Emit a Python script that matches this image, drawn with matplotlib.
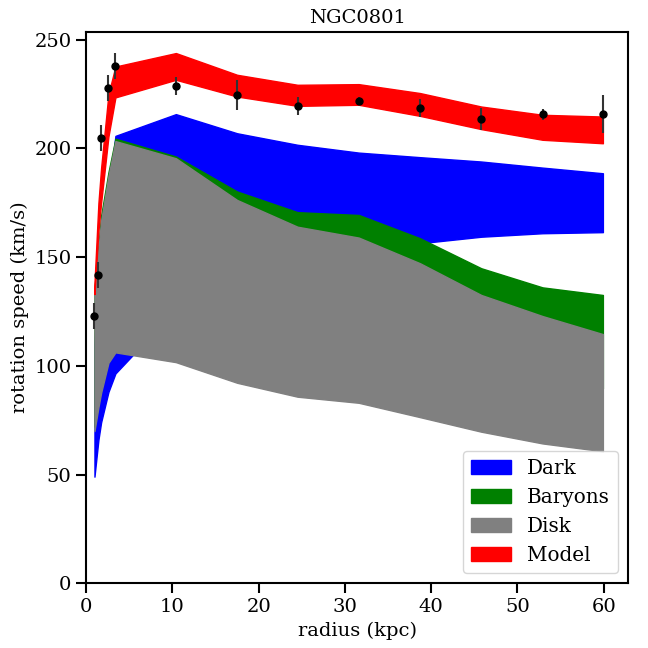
import numpy as np
import matplotlib
matplotlib.use("Agg")
import matplotlib.pyplot as plt

# radii of the measured points (kpc)
radius = [0.96, 1.42, 1.73, 2.58, 3.39, 10.4, 17.5, 24.5, 31.6, 38.7, 45.8, 52.9, 59.9]

# observed rotation speed and errors (km/s)
v_obs = [122.8, 141.8, 204.7, 227.8, 238.0, 228.8, 224.5, 219.6, 221.9, 218.6, 213.5, 215.8, 215.8]
v_err = [6.0, 6.0, 6.0, 6.0, 6.0, 4.0, 7.0, 4.0, 2.0, 4.0, 5.0, 2.5, 8.7]

# model bands (lower, upper)
dark_lo = [49, 66, 74, 88, 96.5, 126, 138, 146, 152, 156.4, 159.4, 161, 161.5]
dark_hi = [110, 145, 160, 180, 205.8, 215.8, 207, 201.7, 198.1, 196, 194, 191.2, 188.6]

bary_lo = [72, 84, 90, 103, 108, 105, 102, 101, 101, 99, 95.5, 92, 89.6]
bary_hi = [136, 155, 169, 189, 204.5, 196.3, 180.2, 170.7, 169.4, 158.7, 144.9, 136.1, 132.6]

disk_lo = [70, 81, 87.6, 101.4, 106.2, 101.7, 92.2, 85.8, 83.0, 76.4, 69.7, 64.3, 60.7]
disk_hi = [134, 153.8, 166.7, 187.3, 203.4, 195.5, 176.3, 164.0, 159.0, 147.2, 132.6, 122.9, 114.6]

model_lo = [133, 162, 175, 205.5, 223.5, 231.6, 223.9, 219.6, 220.1, 215.0, 208.9, 204.0, 202.4]
model_hi = [138, 175, 191, 225, 237.7, 243.9, 233.9, 229.3, 229.6, 225.5, 219.3, 215.5, 214.7]

plt.rcParams['font.family'] = 'DejaVu Serif'
plt.rcParams['font.size'] = 14
plt.rcParams['axes.linewidth'] = 1.5
plt.rcParams['xtick.major.size'] = 7
plt.rcParams['ytick.major.size'] = 7
plt.rcParams['xtick.major.width'] = 1.5
plt.rcParams['ytick.major.width'] = 1.5

fig, ax = plt.subplots(figsize=(6.48, 6.48), dpi=100)

ax.fill_between(radius, dark_lo, dark_hi, color='blue', label='Dark')
ax.fill_between(radius, bary_lo, bary_hi, color='green', label='Baryons')
ax.fill_between(radius, disk_lo, disk_hi, color='gray', label='Disk')
ax.fill_between(radius, model_lo, model_hi, color='red', label='Model')

ax.errorbar(radius, v_obs, yerr=v_err, fmt='o', color='k', ecolor='0.2',
            markersize=5, elinewidth=1.5)

ax.set_xlim(0, 62.8)
ax.set_ylim(0, 253.7)
ax.set_xlabel('radius (kpc)')
ax.set_ylabel('rotation speed (km/s)')
ax.set_title('NGC0801', fontsize=14)
ax.legend(loc='lower right', fontsize=14.4)

fig.subplots_adjust(left=0.133, right=0.969, top=0.951, bottom=0.100)
fig.savefig('out.png')
